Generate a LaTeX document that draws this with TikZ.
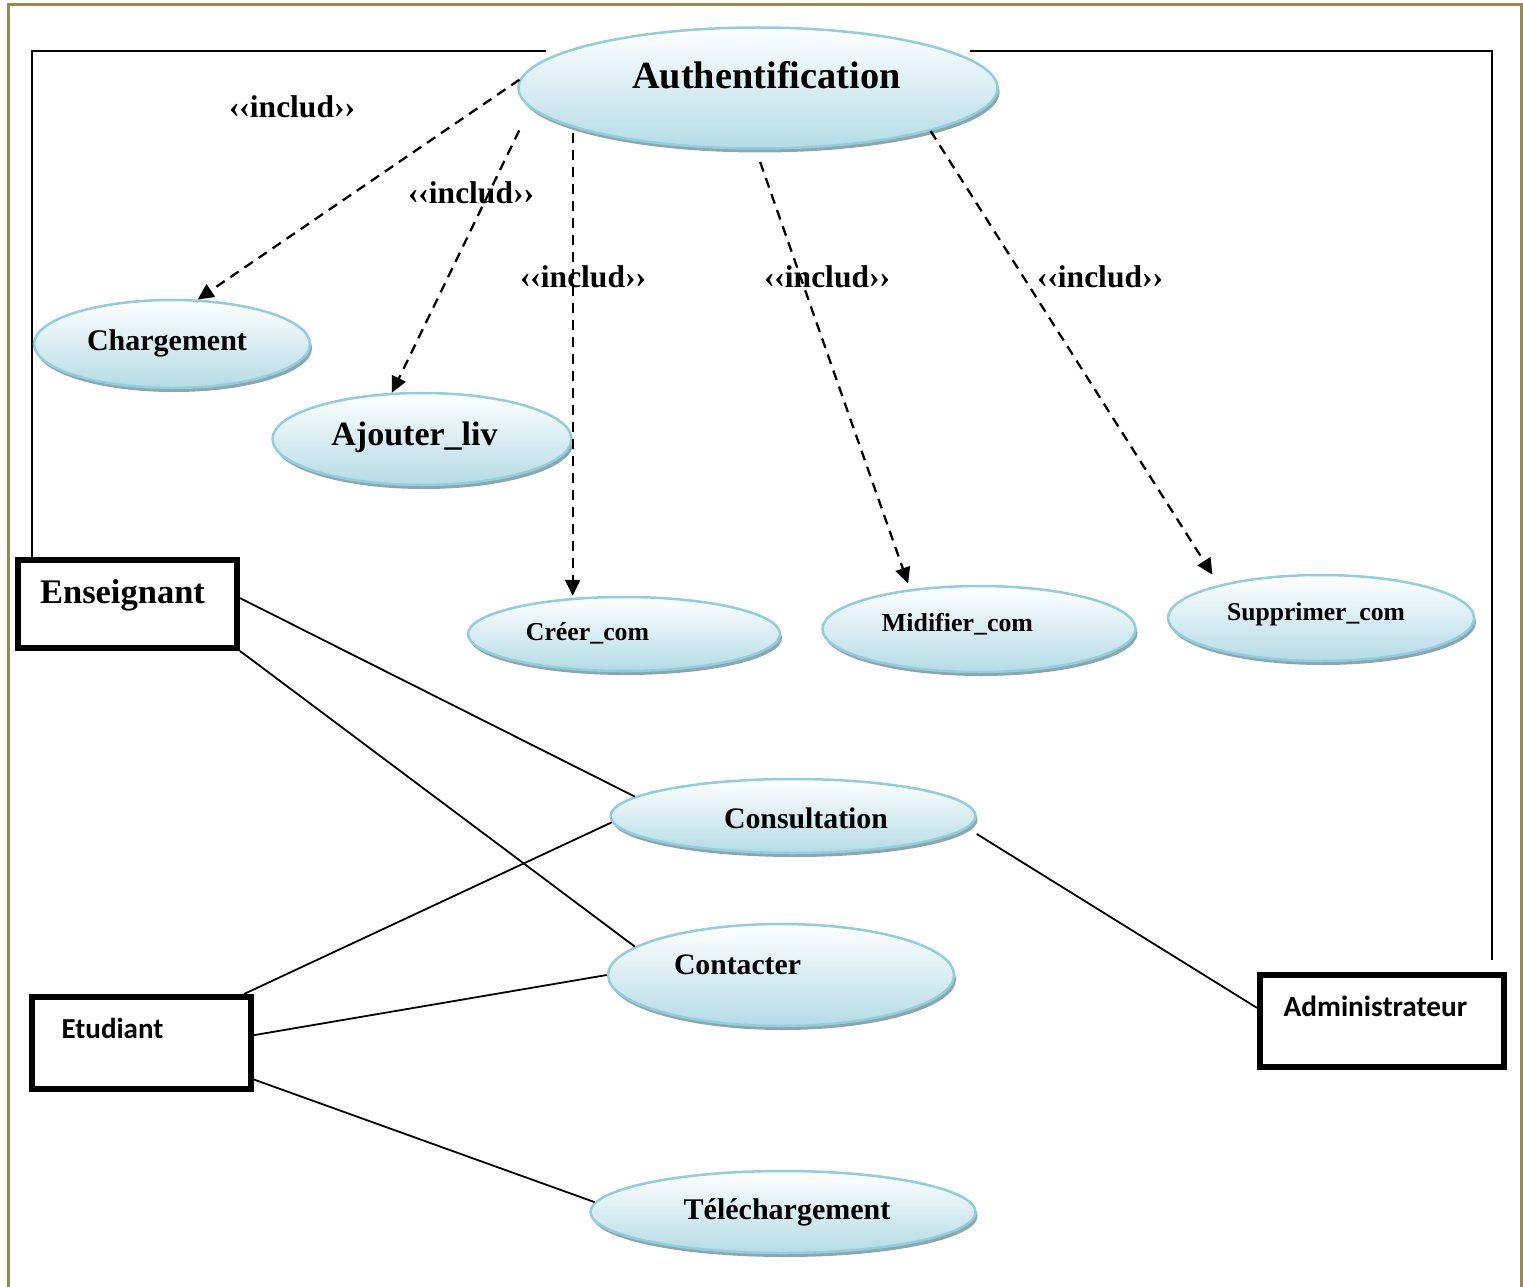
\documentclass[tikz,border=0pt]{standalone}
\usepackage{fontspec}
\setmainfont{Liberation Serif}
\newfontfamily\calibri{Carlito}
\usepackage{tikz}
\usetikzlibrary{positioning, arrows.meta, shapes.geometric, shadows}

\definecolor{ucborder}{RGB}{146,205,220}
\definecolor{ucfill}{RGB}{180,219,230}
\definecolor{ucshadow}{RGB}{138,166,176}
\definecolor{pageframe}{RGB}{148,138,84}

\newcommand{\ucsize}[1]{\fontsize{#1}{#1}\selectfont\bfseries}

\tikzset{
  usecase/.style={ellipse, draw=ucborder, line width=2.5pt, top color=white, bottom color=ucfill, inner sep=0pt,
    drop shadow={shadow xshift=2pt, shadow yshift=-4pt, fill=ucshadow, opacity=1}},
  actor/.style={rectangle, draw, line width=6pt, inner sep=0pt},
  uctext/.style={anchor=base, inner sep=0pt},
  include/.style={line width=2.3pt, dash pattern=on 10pt off 7pt, -{Triangle[length=16pt, width=15pt]}},
  assoc/.style={line width=1.8pt},
  stereo/.style={anchor=base, inner sep=0pt, font=\ucsize{31.5}},
}

\begin{document}
\begin{tikzpicture}[x=1pt, y=-1pt]
        \useasboundingbox (0,0) rectangle (1523,1287);
        \draw [pageframe, line width=3pt] (8,1300) -- (8,5) -- (1521,5) -- (1521,1300);
        \draw [line width=2pt] (546,51) -- (32,51) -- (32,557);
        \draw [line width=2pt] (970,51) -- (1492,51) -- (1492,960);

        \node (auth) [usecase, minimum width=479pt, minimum height=121pt] at (758,88) {};
        \node (charg) [usecase, minimum width=276pt, minimum height=88pt] at (172,344) {};
        \node (ajout) [usecase, minimum width=299pt, minimum height=92pt] at (422,439) {};
        \node (creer) [usecase, minimum width=312pt, minimum height=74pt] at (624,634) {};
        \node (modif) [usecase, minimum width=313pt, minimum height=86pt] at (979,629) {};
        \node (suppr) [usecase, minimum width=306pt, minimum height=86pt] at (1321,618) {};
        \node (consult) [usecase, minimum width=365pt, minimum height=74pt] at (793,816) {};
        \node (contact) [usecase, minimum width=346pt, minimum height=102pt] at (781,975) {};
        \node (telech) [usecase, minimum width=385pt, minimum height=82pt] at (783,1212) {};

        \node (authtxt) [uctext, font=\ucsize{38.4}] at (766.5,89) {Authentification};
        \node (chargtxt) [uctext, font=\ucsize{30}] at (167,350) {Chargement};
        \node (ajouttxt) [uctext, font=\ucsize{34}] at (414.5,445) {Ajouter\_liv};
        \node (creertxt) [uctext, font=\ucsize{25.8}] at (587.5,640) {Créer\_com};
        \node (modiftxt) [uctext, font=\ucsize{25.9}] at (957.5,631) {Midifier\_com};
        \node (supprtxt) [uctext, font=\ucsize{25.6}] at (1316,620) {Supprimer\_com};
        \node (consulttxt) [uctext, font=\ucsize{29.8}] at (806,828) {Consultation};
        \node (contacttxt) [uctext, font=\ucsize{29.7}] at (737.5,974) {Contacter};
        \node (telechtxt) [uctext, font=\ucsize{30}] at (787,1219) {Téléchargement};

        \node (ens) [actor, minimum width=219pt, minimum height=88pt] at (127.5,604) {};
        \node (etud) [actor, minimum width=219pt, minimum height=92pt] at (141.5,1043) {};
        \node (admin) [actor, minimum width=244pt, minimum height=92pt] at (1382,1021) {};
        \node (enstxt) [uctext, font=\ucsize{34.5}] at (122.5,603) {Enseignant};
        \node (etudtxt) [uctext, font=\calibri\ucsize{29}] at (112.5,1038) {Etudiant};
        \node (admintxt) [uctext, font=\calibri\ucsize{29.3}] at (1375.5,1016) {Administrateur};

        \node (inc1) [stereo] at (292,118) {‹‹includ››};
        \node (inc2) [stereo] at (471,203) {‹‹includ››};
        \node (inc3) [stereo] at (583,287) {‹‹includ››};
        \node (inc4) [stereo] at (827,287) {‹‹includ››};
        \node (inc5) [stereo] at (1100,287) {‹‹includ››};

        \draw [include] (auth.178) -- (charg.60);
        \draw [include, shorten <=25pt] (auth.185) -- (ajout.123);
        \draw [include, shorten <=6pt] (auth.192) -- (auth.192 |- creer.north);
        \draw [include, shorten <=13pt, shorten >=6pt] (auth.268) -- (modif.150);
        \draw [include, shorten >=12pt] (auth.346) -- (suppr.162);

        \draw [assoc] (ens.3) -- (consult.173);
        \draw [assoc] (ens.south east) -- (contact.169);
        \draw [assoc] ([xshift=-10pt]etud.north east) -- (consult.182);
        \draw [assoc] (etud.4) -- (contact.west);
        \draw [assoc] (etud.342) -- (telech.177);
        \draw [assoc] ([yshift=-18pt]consult.east) -- (admin.174);
    \end{tikzpicture}
\end{document}
